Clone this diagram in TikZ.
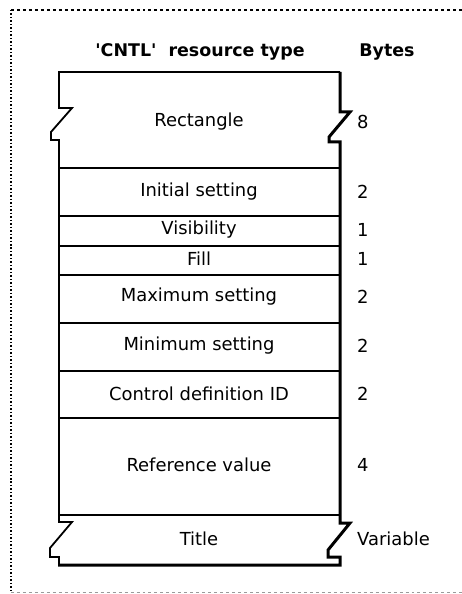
\documentclass[tikz,border=0pt]{standalone}
\usepackage{fontspec}
\setmainfont{DejaVu Sans}
\usepackage{tikz}
\usetikzlibrary{positioning}
\definecolor{RInk}{HTML}{000000}
\definecolor{RFrame}{HTML}{9A9A9A}

\begin{document}
\begin{tikzpicture}[x=1bp, y=-1bp,
  every node/.style={font=\fontsize{18}{21}\selectfont, text=RInk, inner sep=0pt},
  head/.style={font=\fontsize{17.5}{21}\selectfont\bfseries},
  field/.style={anchor=center},
  size/.style={anchor=west},
  outline/.style={draw=RInk, line width=1.8bp, line join=miter},
  shadow/.style={draw=RInk, line width=3bp},
  rowline/.style={draw=RInk, line width=1.8bp}]
\useasboundingbox (0,0) rectangle (462,594);
% page frame
\draw[dashed, line width=1.2bp] (11,10) -- (462,10);
\draw[dotted, line width=1.5bp] (11,10) -- (11,592);
\draw[dashed, draw=RFrame, line width=1bp] (11,592) -- (462,592);
% headings
\node[head] (type)  at (200,52) {\textquotesingle CNTL\textquotesingle\ \ resource type};
\node[head] (bytes) at (387,52) {Bytes};
% record box with broken sides
\draw[outline] (340,72) -- (59,72) -- (59,108) -- (72,108) -- (51,132) -- (51,140) -- (59,140)
  -- (59,522) -- (72,522) -- (50,548) -- (50,557) -- (59,557) -- (59,565);
\draw[shadow] (340,72) -- (340,112) -- (350,112) -- (329,137) -- (329,142) -- (340,142)
  -- (340,523) -- (350,523) -- (328,550) -- (328,557) -- (340,557) -- (340,565) -- (58,565);
\foreach \y in {168,216,245.7,275,322.7,370.7,417.7,515}
  \draw[rowline] (59,\y) -- (340,\y);
% fields and sizes
\foreach \n/\y/\txt/\b in {rect/122/Rectangle/8, init/192/Initial setting/2,
    vis/230/Visibility/1, fill/259/Fill/1, max/297/Maximum setting/2,
    min/346/Minimum setting/2, cdef/394/Control definition ID/2,
    ref/465/Reference value/4, title/539/Title/Variable}
  {\node[field] (\n) at (199,\y) {\txt};
   \node[size] (\n-b) at (357,\y) {\b};}
\end{tikzpicture}
\end{document}
